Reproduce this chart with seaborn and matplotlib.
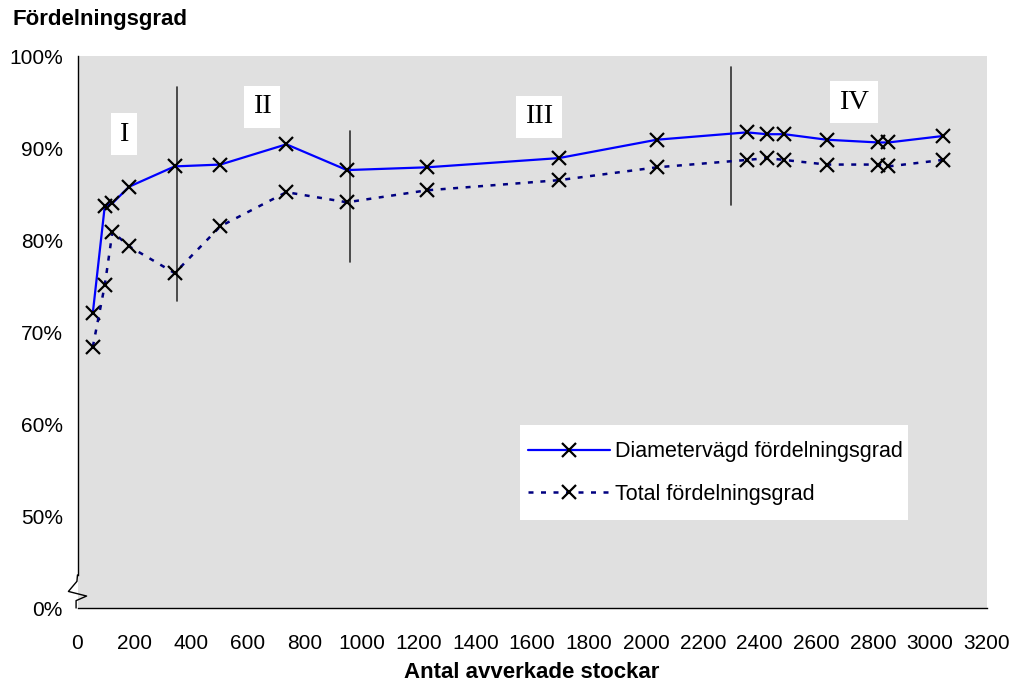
import matplotlib
matplotlib.use("Agg")
import matplotlib.pyplot as plt
from matplotlib.patches import Rectangle
import seaborn as sns
import pandas as pd

# ---- data -------------------------------------------------------------
stockar = [54, 96, 123, 182, 342, 503, 735, 948, 1229, 1693, 2038,
           2355, 2425, 2487, 2636, 2818, 2853, 3044]
diameter = [72.1, 83.7, 84.0, 85.8, 88.0, 88.2, 90.4, 87.6, 87.9, 88.9, 90.9,
            91.7, 91.5, 91.5, 90.9, 90.6, 90.6, 91.3]
total = [68.4, 75.1, 80.9, 79.3, 76.4, 81.5, 85.2, 84.1, 85.4, 86.5, 87.9,
         88.7, 88.9, 88.7, 88.2, 88.2, 88.0, 88.7]
series_names = ["Diametervägd fördelningsgrad", "Total fördelningsgrad"]

x_ticks = list(range(0, 3201, 200))
y_ticks = [40, 50, 60, 70, 80, 90, 100]
y_tick_labels = ["0%", "50%", "60%", "70%", "80%", "90%", "100%"]

phase_labels = ["I", "II", "III", "IV"]
phase_label_x = [164, 649, 1624, 2732]
phase_label_y = [91.5, 94.5, 93.4, 95.0]
phase_bound_x = [349, 959, 2298]
phase_bound_ymin = [73.4, 77.6, 83.8]
phase_bound_ymax = [96.6, 91.8, 98.8]

x_title = "Antal avverkade stockar"
y_title = "Fördelningsgrad"

# ---- style ------------------------------------------------------------
sns.set_style("white")
plt.rcParams["font.family"] = ["Liberation Sans", "DejaVu Sans"]
plt.rcParams["text.color"] = "black"
plt.rcParams["axes.labelcolor"] = "black"
plt.rcParams["xtick.color"] = "black"
plt.rcParams["ytick.color"] = "black"

fig = plt.figure(figsize=(10.16, 6.84), dpi=100)
ax = fig.add_axes([77.5 / 1016, 1 - 608 / 684, (987 - 77.5) / 1016, 552 / 684])
ax.set_facecolor("#E0E0E0")

df = pd.DataFrame({"x": stockar, "d": diameter, "t": total})

sns.lineplot(data=df, x="x", y="d", ax=ax, color="#0000FF", lw=1.6,
             marker="x", markersize=10, markeredgecolor="black",
             markeredgewidth=1.6, label=series_names[0], sort=False)
sns.lineplot(data=df, x="x", y="t", ax=ax, color="#000080", lw=1.8,
             linestyle=(0, (2.0, 3.0)),
             marker="x", markersize=10, markeredgecolor="black",
             markeredgewidth=1.6, label=series_names[1], sort=False)

# phase boundaries
for xb, y0, y1 in zip(phase_bound_x, phase_bound_ymin, phase_bound_ymax):
    ax.plot([xb, xb], [y0, y1], color="#303030", lw=1.2, zorder=1)

# phase labels
for lab, lx, ly in zip(phase_labels, phase_label_x, phase_label_y):
    ax.text(lx, ly, lab, family=["Liberation Serif", "DejaVu Serif"],
            fontsize=20.5, ha="center", va="center", zorder=3, color="black",
            bbox=dict(facecolor="white", edgecolor="none",
                      boxstyle="square,pad=0.3"))

ax.set_xlim(0, 3200)
ax.set_ylim(40, 100)
ax.set_xticks(x_ticks)
ax.set_xticklabels([str(v) for v in x_ticks])
ax.set_yticks(y_ticks)
ax.set_yticklabels(y_tick_labels)
ax.set_xlabel("")
ax.set_ylabel("")

for s in ["top", "right"]:
    ax.spines[s].set_visible(False)
for s in ["left", "bottom"]:
    ax.spines[s].set_color("black")
    ax.spines[s].set_linewidth(1.0)
ax.spines["left"].set_bounds(43.6, 100)

# axis break zigzag
ax.plot([0, -2, -32, 32, -5, -5], [43.6, 42.9, 41.8, 41.3, 40.8, 40.0],
        color="black", lw=1.0, clip_on=False, zorder=5)

ax.tick_params(axis="both", direction="inout", length=9, width=1,
               colors="black", labelsize=15)
ax.tick_params(axis="y", pad=6)
ax.tick_params(axis="x", pad=14)

# legend box (white, no border)
ax.add_patch(Rectangle(((520 - 77.5) / 909.5, (608 - 520) / 552),
                       388 / 909.5, 95 / 552, transform=ax.transAxes,
                       facecolor="white", edgecolor="none", zorder=4))
leg = ax.legend(loc="upper left", bbox_to_anchor=(0.4953, 0.302),
                borderaxespad=0, borderpad=0, frameon=False,
                fontsize=15.5, handlelength=3.8, handletextpad=0.22,
                labelspacing=1.0)
leg.set_zorder(6)

fig.text(12 / 1016, 1 - 20 / 684, y_title, ha="left", va="center",
         fontsize=16, fontweight="bold", color="black")
fig.text(532 / 1016, 1 - 673 / 684, x_title, ha="center", va="center",
         fontsize=16, fontweight="bold", color="black")

fig.savefig("out.png", dpi=100, facecolor="white")
